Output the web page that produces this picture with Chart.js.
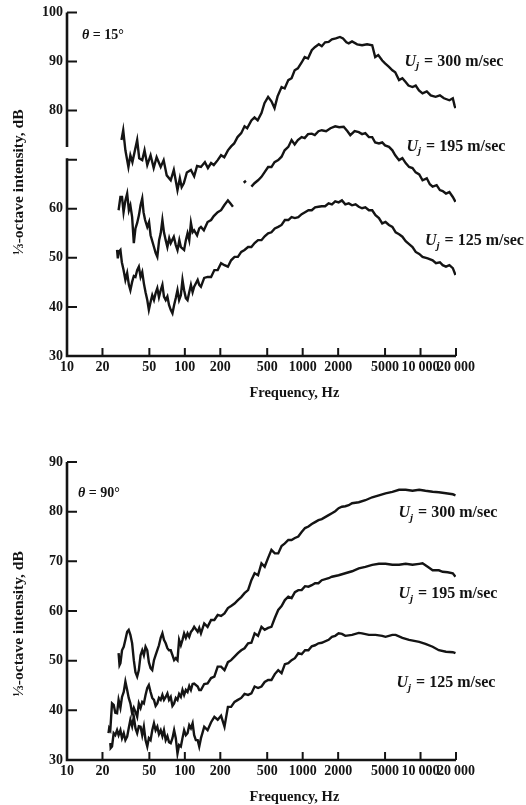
<!DOCTYPE html>
<html>
<head>
<meta charset="utf-8">
<script src="https://cdn.jsdelivr.net/npm/chart.js@4.4.0/dist/chart.umd.min.js"></script>
<style>
  html, body { margin: 0; padding: 0; background: #fff; }
  body { width: 526px; height: 805px; position: relative; overflow: hidden; }
  canvas { position: absolute; left: 0; }
  #top { top: 0; }
  #bottom { top: 405px; }
</style>
</head>
<body>
<canvas id="top" width="526" height="405"></canvas>
<canvas id="bottom" width="526" height="400"></canvas>
<script>
// axis ticks
const freqTicks = [10, 20, 50, 100, 200, 500, 1000, 2000, 5000, 10000, 20000];
const topDbTicks = [30, 40, 50, 60, 80, 90, 100];
const topDbMarks = [30, 40, 50, 60, 70, 80, 90, 100];
const lowDbTicks = [30, 40, 50, 60, 70, 80, 90];

// theta = 15 deg, Uj = 300 m/sec
const top300F = [29,30,31.3,33.2,34.5,35.9,39.4,41,43.5,45.5,48,51.2,54.4,57.6,62.4,66.1,70.2,75.9,80.6,86.6,90.7,94,98,104,112.6,120,127,137,148,157,167,176,190,203,216,232,247,262,280,301,321,338,367,390,415,447,474,509,543,577,612,662,703,755,805,855,910,980,1040,1110,1194,1267,1370,1452,1550,1660,1770,1910,2072,2200,2350,2459,2624,2900,3192,3520,3890,4124,4380,4732,5000,5398,5768,6100,6571,7015,7480,7900,8544,9100,9700,10400,11300,12200,13430,14600,15800,17580,18790,19500,19800];
const top300 = [74.0,76.0,71.9,68.5,70.9,69.5,74.0,70.3,69.9,71.9,68.9,70.9,68.3,70.5,68.5,69.9,66.8,65.8,67.9,63.8,66.2,64.4,65.2,67.4,67.9,66.6,68.7,68.5,69.5,68.3,69.3,68.9,69.9,70.9,70.5,71.9,72.7,73.3,74.6,75.4,76.8,76.4,78.0,78.6,78.0,79.5,81.5,82.8,81.9,80.5,82.9,84.8,84.5,86.2,86.6,88.2,88.6,89.8,90.9,90.6,92.3,92.9,93.5,93.1,93.9,94.0,94.5,94.7,95.0,94.7,93.9,93.7,94.1,93.5,93.3,93.5,93.3,90.9,91.3,90.2,89.6,88.9,88.2,87.8,86.2,86.6,85.8,85.1,84.8,85.1,84.1,83.5,83.9,83.1,82.8,83.1,82.5,82.1,82.5,80.9,80.5];

// theta = 15 deg, Uj = 195 m/sec (trace has two breaks)
const top195F = [27.4,28.4,29.3,30.2,31.3,32.4,33.5,34.5,35.7,36.9,38.1,39.4,40.8,42.1,43.5,44.6,46,48,49.7,51.2,54.7,56.5,58.4,60.5,62.4,64.5,66.5,68.8,71.1,73.7,75.9,80.6,83.8,86.6,89.8,92.5,98.6,102,105.4,109,112.6,116.4,120,127,132.5,137,145,156,167,176,190,203,216,232,243,256,290,316,330,350,367,390,418,447,474,509,543,577,620,662,703,755,805,855,910,980,1040,1110,1194,1267,1361,1452,1580,1720,1889,2040,2228,2400,2536,2760,2992,3192,3400,3647,3890,4124,4436,4732,5000,5398,5768,6100,6571,7015,7480,8000,8551,9100,9750,10400,11300,12000,12670,13700,14600,15420,16440,17580,18790,19800];
const top195 = [59.7,62.4,62.4,59.3,61.7,63.1,59.7,60.7,58.3,53.0,56.0,57.1,58.7,60.7,62.1,59.3,57.7,56.3,57.3,54.6,52.2,51.0,50.2,53.6,55.0,57.7,55.2,53.6,52.2,54.0,53.0,54.3,52.6,51.6,53.6,52.2,51.6,53.6,55.0,53.6,57.1,55.2,55.6,54.6,56.0,56.3,55.6,57.3,57.7,58.5,59.3,59.7,60.7,61.7,61.1,60.4,null,65.3,65.7,null,64.5,65.2,65.8,66.5,67.4,68.5,68.5,69.5,69.9,70.6,71.9,72.6,74.0,73.1,74.0,74.6,74.4,75.2,75.3,75.0,75.8,76.0,75.8,76.4,76.8,76.6,76.7,75.8,75.0,75.8,75.6,75.2,75.4,74.6,74.6,73.5,73.3,73.5,72.9,72.6,71.9,70.9,69.9,70.3,69.3,68.5,68.3,67.4,67.0,65.8,66.2,65.0,64.5,64.8,63.8,63.6,63.1,63.4,62.4,61.4];

// theta = 15 deg, Uj = 125 m/sec
const top125F = [26.6,27,27.5,28.4,29.2,30.2,31.3,32.4,33.5,34.5,35.7,36.9,38.1,39.4,40.7,42.1,43.5,44.9,46.4,48,49.5,51.2,52.9,54.7,56.5,58.4,60.3,62.4,64.5,66.5,68.8,71.1,73.4,75.9,78.5,81.1,83.8,86.6,89.4,92.5,95.5,98.6,102,105.4,109,112.6,116.4,120,128.5,132.5,137,146,156,167,178,190,203,217,232,247,264,282,301,321,344,367,391,418,447,476,509,543,580,620,662,706,755,805,859,918,980,1047,1119,1194,1274,1361,1452,1550,1660,1770,1889,2018,2153,2300,2459,2624,2810,2992,3192,3404,3647,3890,4150,4436,4732,5047,5395,5768,6152,6577,7015,7482,7998,8551,9100,9750,10400,11500,12670,13520,14600,15420,16440,17580,18790,19800];
const top125 = [51.6,49.9,51.2,51.6,49.1,47.5,45.5,46.9,44.5,43.4,45.1,46.3,46.1,47.5,48.2,46.1,47.1,44.8,43.0,41.4,39.4,41.0,42.4,41.4,42.8,43.8,42.0,43.4,44.5,42.1,41.4,42.1,40.4,39.4,38.7,40.4,41.8,43.4,41.4,42.4,45.5,43.4,41.8,41.4,43.0,44.5,43.0,44.1,45.5,44.5,44.1,45.9,46.1,46.1,47.5,47.5,48.9,48.5,48.2,49.5,50.2,50.2,51.2,51.6,52.2,52.2,53.0,53.6,53.6,54.4,55.0,55.2,56.0,56.3,56.7,57.7,57.7,58.3,58.1,58.3,58.9,59.3,59.7,59.7,60.3,60.4,60.5,60.5,61.1,60.9,61.5,61.3,61.7,60.9,61.1,60.7,60.9,60.4,60.1,60.3,59.7,59.7,58.7,58.1,57.0,57.3,56.7,56.3,55.2,54.8,54.3,53.4,52.8,52.2,51.2,50.8,50.2,49.9,49.5,48.9,49.1,48.5,48.2,48.5,47.9,46.5];

// theta = 90 deg, Uj = 300 m/sec
const low300F = [27.4,27.9,28.4,29.3,30.3,31.3,32.4,33.4,34.5,35.7,36.9,38.1,39.4,40.7,42.1,43.5,44.9,46.4,48,49.5,51.2,52.9,54.7,56.5,58.4,60.3,62.4,64.5,66.5,68.8,71.1,73.4,75.9,78.5,81.1,83.8,86.6,89.4,92.5,95.5,98.6,102,105.4,109,112.6,116.4,120,128.5,132.5,137,146,156,167,178,190,203,217,232,247,264,282,301,321,344,367,391,418,447,476,509,543,580,620,662,706,755,805,859,918,980,1047,1119,1194,1274,1361,1452,1660,1770,1889,2018,2153,2300,2459,2624,2992,3404,3890,4436,5047,5768,6577,7482,8551,9750,11000,12670,14300,16440,18790,19800];
const low300 = [51.5,49.1,49.5,52.1,52.8,54.2,55.8,56.2,55.2,53.5,50.1,47.7,46.8,48.1,51.1,52.1,51.1,52.8,52.1,49.7,48.5,48.1,50.1,51.1,52.1,53.1,54.6,55.5,54.2,53.5,52.5,52.1,52.1,51.1,50.1,50.5,50.1,54.2,53.1,54.2,55.5,54.6,55.5,54.8,55.8,56.2,56.8,55.8,56.6,55.5,57.5,56.8,58.2,58.2,59.2,59.0,59.5,60.6,61.0,61.5,62.2,62.8,63.6,64.2,66.2,67.6,67.2,69.6,68.9,70.7,72.3,71.6,71.6,73.1,73.6,74.3,74.3,74.7,75.0,75.9,76.7,77.0,77.5,77.9,78.3,78.5,79.3,79.7,80.1,80.7,81.0,81.1,81.3,81.7,81.9,82.3,82.9,83.3,83.7,84.0,84.4,84.4,84.2,84.4,84.2,84.0,83.9,83.7,83.5,83.3];

// theta = 90 deg, Uj = 195 m/sec
const low195F = [22.5,22.8,23.3,24.1,24.9,25.7,26.6,27.4,28.4,29.3,30.3,31.3,32.4,33.4,34.5,35.7,36.9,38.1,39.4,40.7,42.1,43.5,44.9,46.4,48,49.5,51.2,52.9,54.7,56.5,58.4,60.3,62.4,64.5,66.5,68.8,71.1,73.4,75.9,78.5,81.1,83.8,86.6,89.4,92.5,95.5,98.6,102,105.4,109,112.6,116.4,120,128.5,132.5,137,146,156,167,178,190,203,217,232,247,264,282,301,321,344,367,391,418,447,476,509,543,580,620,662,706,755,805,859,918,980,1047,1119,1194,1274,1361,1452,1660,1770,2018,2300,2624,2992,3404,3890,4436,5047,5768,6577,7482,8551,9750,10400,11500,12670,14300,15420,17000,18790,19800];
const low195 = [35.4,36.4,36.0,41.4,41.1,39.5,39.4,42.1,40.5,42.7,43.7,45.8,44.1,42.5,41.4,39.4,40.5,39.7,38.7,41.4,40.5,41.7,41.4,43.1,44.5,45.1,43.7,42.5,42.1,40.9,41.4,42.5,42.1,43.1,42.1,42.7,43.4,42.1,42.7,40.9,41.4,42.5,42.1,43.3,42.7,44.1,43.1,44.1,43.7,44.9,44.1,45.3,45.4,44.8,44.1,44.1,45.3,45.4,46.5,46.8,48.8,48.8,48.1,49.7,50.1,50.8,51.5,52.1,52.5,53.5,53.6,55.5,55.0,56.8,56.2,56.6,56.8,58.6,60.2,61.0,62.2,62.9,62.6,63.8,64.2,64.2,65.0,64.9,65.2,65.6,65.6,66.2,66.6,66.9,67.2,67.6,68.0,68.6,68.9,69.3,69.5,69.5,69.3,69.3,69.5,69.3,69.5,69.6,68.9,68.2,68.2,67.9,67.8,67.6,66.9];

// theta = 90 deg, Uj = 125 m/sec
const low125F = [23.3,23.5,24.1,24.9,25.7,26.6,27.4,28.4,29.3,30.3,31.3,32.4,33.4,34.5,35.7,36.9,38.1,39.4,40.7,42.1,43.5,44.9,46.4,48,49.5,51.2,52.9,54.7,56.5,58.4,60.3,62.4,64.5,66.5,68.8,71.1,73.4,75.9,78.5,81.1,83.8,86.6,89.4,92.5,95.5,98.6,102,105.4,109,112.6,116.4,120,124,128.5,132.5,137,141,146,156,167,178,190,203,217,232,247,264,282,301,321,344,367,391,418,447,476,509,543,580,620,662,706,755,805,859,918,980,1047,1119,1194,1274,1361,1452,1660,1770,1889,2018,2153,2300,2624,2992,3192,3647,4150,4732,5047,5768,6152,7015,7998,9750,11000,12670,14300,16440,18790,19800];
const low125 = [33.4,32.4,32.7,35.4,35.0,36.0,35.0,36.0,34.4,35.4,34.0,34.7,36.4,38.1,36.8,38.7,36.4,35.4,36.8,36.7,35.0,36.7,34.0,32.7,34.4,34.0,36.0,37.4,36.0,36.7,35.2,36.0,34.8,36.0,34.0,34.8,33.6,33.4,34.4,36.0,34.4,31.3,33.0,32.7,34.4,36.0,35.0,35.4,37.0,36.4,37.4,35.0,34.0,34.0,32.7,34.4,35.4,36.7,36.0,37.6,38.7,38.1,38.9,36.7,40.7,40.7,41.7,42.1,42.5,43.3,43.1,43.4,44.8,44.5,44.8,45.7,46.1,46.1,47.3,48.1,47.5,49.3,49.5,50.1,50.5,51.5,51.3,52.1,52.1,52.9,53.1,53.5,53.6,54.2,54.8,55.0,55.5,55.4,55.0,55.2,55.6,55.5,55.2,55.2,55.0,54.8,55.2,55.2,54.6,54.2,53.8,53.4,52.8,52.1,51.8,51.7,51.5];

// labels written on the plots (frequency, dB of their left/middle point)
const topNotes = [
  { f: 13.4, db: 95.3, theta: '15' },
  { f: 7300, db: 90.0, speed: '300' },
  { f: 7600, db: 72.7, speed: '195' },
  { f: 10900, db: 53.4, speed: '125' }
];
const lowNotes = [
  { f: 12.4, db: 83.7, theta: '90' },
  { f: 6500, db: 79.7, speed: '300' },
  { f: 6500, db: 63.4, speed: '195' },
  { f: 6250, db: 45.5, speed: '125' }
];

const INK = '#141414';
const SERIF = '"Liberation Serif", "DejaVu Serif", serif';

function pts(f, db) {
  return f.map((x, i) => ({ x: x, y: db[i] }));
}

function fmtFreq(v) {
  return v >= 10000 ? String(v / 1000) + '\u2009000' : String(v);
}

function drawNote(ctx, x, y, n) {
  ctx.textBaseline = 'middle';
  ctx.textAlign = 'left';
  if (n.theta) {
    ctx.font = 'italic bold 14px ' + SERIF;
    ctx.fillText('\u03b8', x, y);
    x += ctx.measureText('\u03b8').width;
    ctx.font = 'bold 14px ' + SERIF;
    ctx.fillText(' = ' + n.theta + '\u00b0', x, y);
    return;
  }
  ctx.font = 'italic bold 16px ' + SERIF;
  ctx.fillText('U', x, y);
  x += ctx.measureText('U').width;
  ctx.font = 'italic bold 11px ' + SERIF;
  ctx.fillText('j', x, y + 5);
  x += ctx.measureText('j').width + 1;
  ctx.font = 'bold 16px ' + SERIF;
  ctx.fillText(' = ' + n.speed + ' m/sec', x, y);
}

const framePlugin = {
  id: 'frame',
  afterDatasetsDraw(chart, args, opts) {
    const ctx = chart.ctx;
    const a = chart.chartArea;
    const x = chart.scales.x, y = chart.scales.y;
    ctx.save();
    ctx.strokeStyle = INK;
    ctx.fillStyle = INK;

    // axis lines (the 15 deg plot has a break in the dB axis)
    ctx.lineWidth = 2.6;
    ctx.beginPath();
    let from = a.top;
    (opts.gaps || []).forEach(g => {
      ctx.moveTo(a.left, from);
      ctx.lineTo(a.left, y.getPixelForValue(g[1]));
      from = y.getPixelForValue(g[0]);
    });
    ctx.moveTo(a.left, from);
    ctx.lineTo(a.left, a.bottom + 1.3);
    ctx.moveTo(a.left - 1.3, a.bottom);
    ctx.lineTo(a.right, a.bottom);
    ctx.stroke();

    // inward tick marks
    ctx.lineWidth = 2;
    ctx.beginPath();
    opts.marks.forEach(v => {
      if (v <= y.min) return;
      const p = y.getPixelForValue(v);
      ctx.moveTo(a.left, p);
      ctx.lineTo(a.left + 10, p);
    });
    freqTicks.forEach(v => {
      if (v <= x.min) return;
      const p = x.getPixelForValue(v);
      ctx.moveTo(p, a.bottom);
      ctx.lineTo(p, a.bottom - 8);
    });
    ctx.stroke();

    // axis titles
    ctx.font = 'bold 14.5px ' + SERIF;
    ctx.textAlign = 'center';
    ctx.textBaseline = 'middle';
    ctx.fillText('Frequency, Hz', x.getPixelForValue(850), a.bottom + 37);
    ctx.save();
    ctx.translate(19, (a.top + a.bottom) / 2 + opts.titleShift);
    ctx.rotate(-Math.PI / 2);
    ctx.font = 'bold 15.5px ' + SERIF;
    ctx.fillText('\u2153-octave intensity, dB', 0, 0);
    ctx.restore();

    opts.notes.forEach(n => drawNote(ctx, x.getPixelForValue(n.f), y.getPixelForValue(n.db), n));
    ctx.restore();
  }
};

function makePanel(id, curves, yMax, yTicks, frame, padTop, xHeight) {
  new Chart(document.getElementById(id), {
    type: 'line',
    data: {
      datasets: curves.map(c => ({
        data: pts(c[0], c[1]),
        borderColor: INK,
        borderWidth: 2.4,
        pointRadius: 0,
        tension: 0,
        spanGaps: false
      }))
    },
    options: {
      responsive: false,
      animation: false,
      layout: { padding: { top: padTop, right: 70, left: 0, bottom: 0 } },
      plugins: { legend: { display: false }, tooltip: { enabled: false }, frame: frame },
      scales: {
        x: {
          type: 'logarithmic',
          min: 10,
          max: 20000,
          grid: { display: false, drawTicks: false },
          border: { display: false },
          afterBuildTicks: s => { s.ticks = freqTicks.map(v => ({ value: v })); },
          afterFit: s => { s.height = xHeight; },
          ticks: {
            autoSkip: false,
            maxRotation: 0,
            padding: 3,
            color: INK,
            font: { family: SERIF, size: 14, weight: 'bold' },
            callback: v => fmtFreq(v)
          }
        },
        y: {
          type: 'linear',
          min: 30,
          max: yMax,
          grid: { display: false, drawTicks: false },
          border: { display: false },
          afterBuildTicks: s => { s.ticks = yTicks.map(v => ({ value: v })); },
          afterFit: s => { s.width = 67; },
          ticks: {
            padding: 4,
            color: INK,
            font: { family: SERIF, size: 14, weight: 'bold' }
          }
        }
      }
    },
    plugins: [framePlugin]
  });
}

makePanel('top',
  [[top300F, top300], [top195F, top195], [top125F, top125]],
  100, topDbTicks,
  { marks: topDbMarks, gaps: [[70.3, 72.6]], notes: topNotes, titleShift: -2 },
  12, 49);

makePanel('bottom',
  [[low300F, low300], [low195F, low195], [low125F, low125]],
  90, lowDbTicks,
  { marks: lowDbTicks, notes: lowNotes, titleShift: 13 },
  57, 45);
</script>
</body>
</html>
